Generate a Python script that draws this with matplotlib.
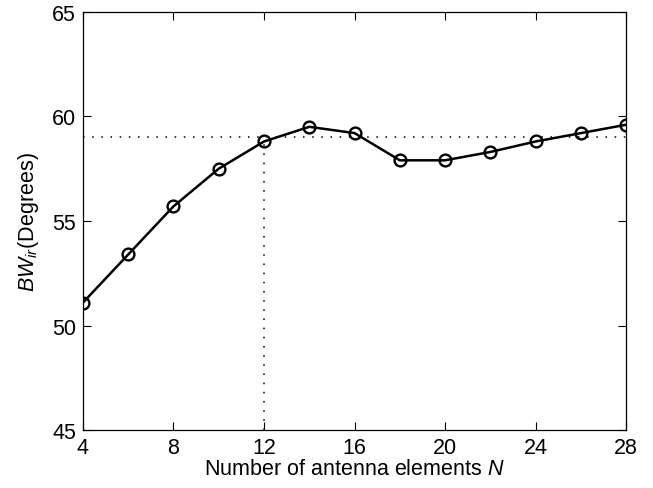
import matplotlib
matplotlib.use("Agg")
import matplotlib.pyplot as plt

N = [4, 6, 8, 10, 12, 14, 16, 18, 20, 22, 24, 26, 28]
bw = [51.1, 53.4, 55.7, 57.5, 58.8, 59.5, 59.2, 57.9, 57.9, 58.3, 58.8, 59.2, 59.6]
ref_level = 59.0
ref_N = 12
ref_bw = 58.8
xticks = [4, 8, 12, 16, 20, 24, 28]
yticks = [45, 50, 55, 60, 65]

plt.rcParams['font.family'] = ['Liberation Sans', 'DejaVu Sans']
plt.rcParams['mathtext.fontset'] = 'custom'
plt.rcParams['mathtext.it'] = 'Liberation Sans:italic'
plt.rcParams['mathtext.rm'] = 'Liberation Sans'

fig = plt.figure(figsize=(6.53, 4.89), dpi=100)
ax = fig.add_axes([0.127, 0.118, 0.832, 0.856])

ax.axhline(ref_level, color='black', linestyle=(0, (1, 5)), linewidth=1.1)
ax.plot([ref_N, ref_N], [45, ref_bw], color='black', linestyle=(0, (1, 5)), linewidth=1.1)
ax.plot(N, bw, color='black', linewidth=1.8, marker='o', markersize=8.5,
        markerfacecolor='none', markeredgewidth=1.7, markeredgecolor='black')

ax.set_xlim(4, 28)
ax.set_ylim(45, 65)
ax.set_xticks(xticks)
ax.set_yticks(yticks)
ax.tick_params(direction='in', top=True, right=True, labelsize=15.5, length=6, width=0.8, pad=5)
for s in ax.spines.values():
    s.set_linewidth(0.9)
ax.set_xlabel('Number of antenna elements $N$', fontsize=15.5, labelpad=0)
ax.set_ylabel('$BW_{ir}$(Degrees)', fontsize=15.5, labelpad=8)

fig.savefig('out.png', dpi=100)
